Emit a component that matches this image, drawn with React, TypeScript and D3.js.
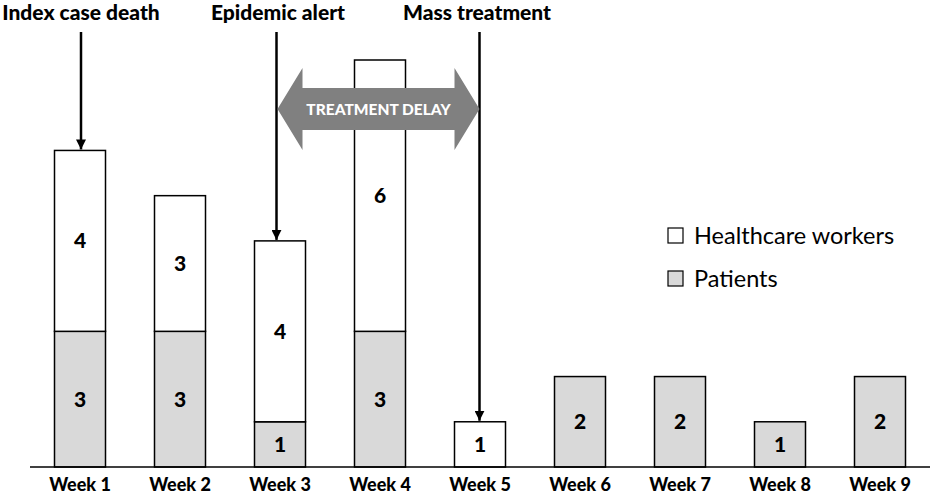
import React from "react";
import * as d3 from "d3";

const weeks = ["Week 1", "Week 2", "Week 3", "Week 4", "Week 5", "Week 6", "Week 7", "Week 8", "Week 9"];
const patients = [3, 3, 1, 3, 0, 2, 2, 1, 2];
const healthcareWorkers = [4, 3, 4, 6, 1, 0, 0, 0, 0];
const seriesNames = ["Healthcare workers", "Patients"];
const events = [
  { label: "Index case death", week: "Week 1" },
  { label: "Epidemic alert", week: "Week 3" },
  { label: "Mass treatment", week: "Week 5" },
];
const delayLabel = "TREATMENT DELAY";

const W = 933;
const H = 497;
const FONT = "Lato, 'Open Sans', sans-serif";

export default function App() {
  const x = d3.scaleBand().domain(weeks).range([30, 930]).paddingInner(0.49).paddingOuter(0.245);
  const y = d3.scaleLinear().domain([0, 9]).range([467, 60]);
  const bw = x.bandwidth();
  const cx = (w: string) => (x(w) as number) + bw / 2;
  const base = y(0);

  const idx = (w: string) => weeks.indexOf(w);
  const topOf = (w: string) => y(patients[idx(w)] + healthcareWorkers[idx(w)]);
  const arrowX = [cx("Week 1") + 1, (x("Week 3") as number) + 22, (x("Week 5") as number) + 25];
  const labelX = [81, 278, 477];

  const ax0 = arrowX[1] + 1;
  const ax1 = arrowX[2];
  const ay = 109;
  const headLen = 25;
  const headHalf = 41;
  const shaftHalf = 21;
  const delayPath = [
    [ax0, ay],
    [ax0 + headLen, ay - headHalf],
    [ax0 + headLen, ay - shaftHalf],
    [ax1 - headLen, ay - shaftHalf],
    [ax1 - headLen, ay - headHalf],
    [ax1, ay],
    [ax1 - headLen, ay + headHalf],
    [ax1 - headLen, ay + shaftHalf],
    [ax0 + headLen, ay + shaftHalf],
    [ax0 + headLen, ay + headHalf],
  ];
  const line = d3.line();

  return (
    <svg width={W} height={H} style={{ position: "absolute", left: 0, top: 0, background: "#fff" }}>
      <defs>
        <marker id="ah" viewBox="0 0 10 10" refX="10" refY="5" markerWidth="4" markerHeight="4" orient="auto" markerUnits="strokeWidth">
          <path d="M0,0 L10,5 L0,10 z" fill="#000" />
        </marker>
      </defs>
      {weeks.map((w, i) => {
        const p = patients[i];
        const h = healthcareWorkers[i];
        const x0 = x(w) as number;
        return (
          <g key={w}>
            {p > 0 && (
              <g>
                <rect x={x0} y={y(p)} width={bw} height={base - y(p)} fill="#d9d9d9" stroke="#000" strokeWidth={1.5} />
                <text x={cx(w)} y={(y(p) + base) / 2} dy="0.36em" textAnchor="middle" fontFamily={FONT} fontWeight="900" fontSize={21}>{p}</text>
              </g>
            )}
            {h > 0 && (
              <g>
                <rect x={x0} y={y(p + h)} width={bw} height={y(p) - y(p + h)} fill="#fff" stroke="#000" strokeWidth={1.5} />
                <text x={cx(w)} y={(y(p + h) + y(p)) / 2} dy="0.36em" textAnchor="middle" fontFamily={FONT} fontWeight="900" fontSize={21}>{h}</text>
              </g>
            )}
            <text x={cx(w)} y={491} textAnchor="middle" fontFamily={FONT} fontWeight="900" fontSize={18}>{w}</text>
          </g>
        );
      })}
      <line x1={30} x2={930} y1={base} y2={base} stroke="#000" strokeWidth={1.5} />

      {events.map((e, i) => (
        <g key={e.label}>
          <line x1={arrowX[i]} x2={arrowX[i]} y1={32} y2={topOf(e.week) - 1} stroke="#000" strokeWidth={2.5} markerEnd="url(#ah)" />
          <text x={labelX[i]} y={20} textAnchor="middle" fontFamily={FONT} fontWeight="900" fontSize={21}>{e.label}</text>
        </g>
      ))}

      <path d={line(delayPath as [number, number][]) + "Z"} fill="#808080" />
      <text x={(ax0 + ax1) / 2} y={ay} dy="0.36em" textAnchor="middle" fill="#fff" fontFamily={FONT} fontWeight="900" fontSize={15.5}>{delayLabel}</text>

      {seriesNames.map((s, i) => (
        <g key={s} transform={`translate(668,${228 + i * 43})`}>
          <rect x={0} y={0} width={15} height={15} fill={i === 0 ? "#fff" : "#d9d9d9"} stroke="#000" strokeWidth={1.2} />
          <text x={26} y={16} fontFamily={FONT} fontSize={23.5}>{s}</text>
        </g>
      ))}
    </svg>
  );
}
